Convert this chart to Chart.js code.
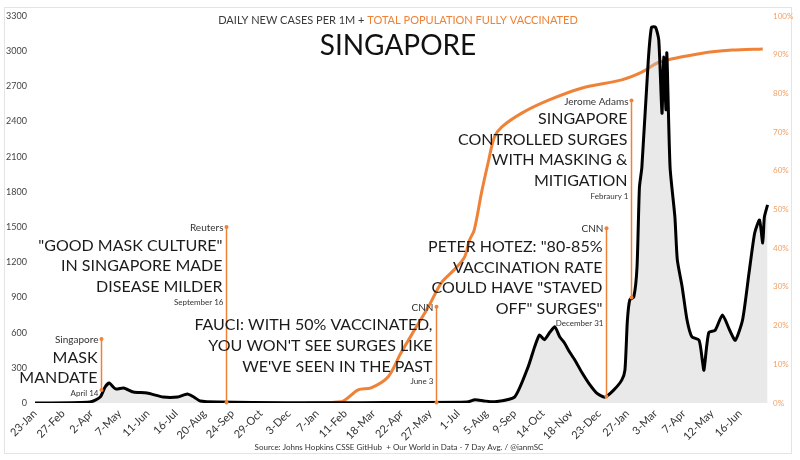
<!DOCTYPE html>
<html>
<head>
<meta charset="utf-8">
<script src="https://cdn.jsdelivr.net/npm/chart.js@4.4.0/dist/chart.umd.min.js"></script>
<style>
  html, body { margin: 0; padding: 0; background: #fff; }
  #wrap { width: 800px; height: 460px; position: relative; }
</style>
</head>
<body>
<div id="wrap"><canvas id="chart" width="800" height="460"></canvas></div>
<script>
// Singapore: daily new cases per 1M (7 day avg) + % population fully vaccinated
const startDate = '2020-01-23';
const tickLabels = ['23-Jan', '27-Feb', '2-Apr', '7-May', '11-Jun', '16-Jul', '20-Aug', '24-Sep', '29-Oct', '3-Dec',
    '7-Jan', '11-Feb', '18-Mar', '22-Apr', '27-May', '1-Jul', '5-Aug', '9-Sep', '14-Oct', '18-Nov', '23-Dec',
    '27-Jan', '3-Mar', '7-Apr', '12-May', '16-Jun'];

const caseDates = ['2020-01-23', '2020-01-29', '2020-03-31', '2020-04-13', '2020-04-19', '2020-04-24', '2020-05-02',
    '2020-05-12', '2020-05-24', '2020-06-10', '2020-06-30', '2020-07-18', '2020-07-30', '2020-08-07', '2020-08-15',
    '2020-09-06', '2020-12-01', '2021-03-01', '2021-05-01', '2021-07-12', '2021-07-22', '2021-08-02', '2021-08-15',
    '2021-09-09', '2021-09-26', '2021-10-04', '2021-10-10', '2021-10-16', '2021-10-23', '2021-10-29', '2021-11-04',
    '2021-11-10', '2021-11-15', '2021-11-23', '2021-12-02', '2021-12-10', '2021-12-20', '2021-12-30', '2022-01-10',
    '2022-01-20', '2022-01-24', '2022-01-27', '2022-01-30', '2022-02-04', '2022-02-08', '2022-02-11', '2022-02-14',
    '2022-02-22', '2022-02-26', '2022-03-03', '2022-03-07', '2022-03-11', '2022-03-13', '2022-03-16', '2022-03-17',
    '2022-03-21', '2022-03-27', '2022-03-30', '2022-04-05', '2022-04-11', '2022-04-17', '2022-04-26', '2022-04-30',
    '2022-05-02', '2022-05-08', '2022-05-16', '2022-05-25', '2022-06-03', '2022-06-10', '2022-06-19', '2022-06-27',
    '2022-07-04', '2022-07-10', '2022-07-14', '2022-07-16', '2022-07-20'];
const caseValues = [0, 0, 8, 51, 137, 170, 120,
    128, 94, 85, 51, 51, 77, 51, 17,
    8, 2, 3, 5, 8, 28, 18, 10,
    50, 310, 480, 580, 540, 605, 650, 565,
    512, 450, 365, 255, 170, 85, 50, 110,
    195, 280, 700, 880, 905, 1160, 1840, 2010,
    2925, 3205, 3205, 3095, 2470, 2950, 2500, 2985,
    2010, 1585, 1220, 990, 710, 565, 535, 365,
    280, 600, 620, 750, 620, 535, 710, 1110,
    1450, 1560, 1365, 1585, 1690];

const vaxDates = ['2020-12-24', '2021-02-06', '2021-02-27', '2021-03-15', '2021-04-05', '2021-04-21', '2021-05-08',
    '2021-05-25', '2021-06-10', '2021-06-26', '2021-07-09', '2021-07-15', '2021-07-21', '2021-07-30', '2021-08-08',
    '2021-08-15', '2021-08-24', '2021-09-18', '2021-10-22', '2021-12-02', '2022-01-20', '2022-02-14', '2022-03-08',
    '2022-04-30', '2022-06-06', '2022-07-14'];
const vaxValues = [0, 0.3, 3.4, 3.9, 6.7, 12.9, 18.9,
    24.8, 31, 34.4, 37.7, 42, 44.7, 54.3, 62.8,
    68.7, 71.3, 74.9, 78.3, 81.4, 83.5, 85.5, 88.1,
    90.4, 91.2, 91.5];

// callouts
const noteDates = ['2020-04-14', '2020-09-16', '2021-06-03', '2021-12-31', '2022-02-01'];
const noteTops = [545, 1500, 820, 1490, 2580];
const noteBases = [110, 5, 5, 55, 900];
const noteSources = ['Singapore', 'Reuters', 'CNN', 'CNN', 'Jerome Adams'];
const noteHeadlines = [
    ['MASK', 'MANDATE'],
    ['"GOOD MASK CULTURE"', 'IN SINGAPORE MADE', 'DISEASE MILDER'],
    ['FAUCI: WITH 50% VACCINATED,', "YOU WON'T SEE SURGES LIKE", "WE'VE SEEN IN THE PAST"],
    ['PETER HOTEZ: "80-85%', 'VACCINATION RATE', 'COULD HAVE "STAVED', 'OFF" SURGES"'],
    ['SINGAPORE', 'CONTROLLED SURGES', 'WITH MASKING &', 'MITIGATION']
];
const noteDateLabels = ['April 14', 'September 16', 'June 3', 'December 31', 'Febraury 1'];

const ORANGE = '#ef8236';
const FONT = 'Lato, "Noto Sans", sans-serif';

const dayOf = d => (Date.parse(d) - Date.parse(startDate)) / 86400000;

// white page + thin frame
const framePlugin = {
    id: 'frame',
    beforeDraw(chart) {
        const ctx = chart.ctx;
        ctx.save();
        ctx.fillStyle = '#fff';
        ctx.fillRect(0, 0, chart.width, chart.height);
        ctx.strokeStyle = '#e4e4e4';
        ctx.lineWidth = 1;
        ctx.strokeRect(4.5, 7.5, 787, 446);
        ctx.restore();
    }
};

// titles and source line
const textPlugin = {
    id: 'texts',
    beforeDatasetsDraw(chart) {
        const ctx = chart.ctx;
        ctx.save();
        ctx.textBaseline = 'middle';
        ctx.font = '11px ' + FONT;
        const p1 = 'DAILY NEW CASES PER 1M + ';
        const p2 = 'TOTAL POPULATION FULLY VACCINATED';
        const w1 = ctx.measureText(p1).width;
        const w2 = ctx.measureText(p2).width;
        let sx = 398 - (w1 + w2) / 2;
        ctx.textAlign = 'left';
        ctx.fillStyle = '#3a3a3a';
        ctx.fillText(p1, sx, 20);
        ctx.fillStyle = ORANGE;
        ctx.fillText(p2, sx + w1, 20);

        ctx.textAlign = 'center';
        ctx.fillStyle = '#111';
        ctx.font = '28px ' + FONT;
        ctx.fillText('SINGAPORE', 398, 46);

        ctx.font = '8px ' + FONT;
        ctx.fillStyle = '#333';
        ctx.fillText('Source: Johns Hopkins CSSE GitHub  + Our World in Data - 7 Day Avg. / @ianmSC', 399, 447);
        ctx.restore();
    }
};

const notesPlugin = {
    id: 'notes',
    afterDatasetsDraw(chart) {
        const { ctx, scales: { x, y } } = chart;
        noteDates.forEach((d, i) => {
            const px = Math.round(x.getPixelForValue(dayOf(d))) + 0.5;
            const top = y.getPixelForValue(noteTops[i]);
            const base = y.getPixelForValue(noteBases[i]);
            ctx.save();
            ctx.strokeStyle = ORANGE;
            ctx.lineWidth = 1.5;
            ctx.beginPath();
            ctx.moveTo(px, top);
            ctx.lineTo(px, base);
            ctx.stroke();
            ctx.fillStyle = ORANGE;
            [top, base].forEach(py => {
                ctx.beginPath();
                ctx.arc(px, py, 2, 0, Math.PI * 2);
                ctx.fill();
            });

            ctx.textAlign = 'right';
            ctx.textBaseline = 'middle';
            ctx.fillStyle = '#333';
            ctx.font = '10px ' + FONT;
            ctx.fillText(noteSources[i], px - 3, top + 1);

            ctx.fillStyle = '#1b1b1b';
            ctx.font = '16px ' + FONT;
            const lines = noteHeadlines[i];
            lines.forEach((t, j) => ctx.fillText(t, px - 4, top + 18.5 + j * 20.7));

            ctx.fillStyle = '#333';
            ctx.font = '8px ' + FONT;
            ctx.fillText(noteDateLabels[i], px - 3, top + 18.5 + (lines.length - 1) * 20.7 + 15);
            ctx.restore();
        });
    }
};

const ctx = document.getElementById('chart').getContext('2d');
new Chart(ctx, {
    type: 'line',
    data: {
        datasets: [{
            label: 'Daily new cases per 1M',
            data: caseDates.map((d, i) => ({ x: dayOf(d), y: caseValues[i] })),
            yAxisID: 'y',
            borderColor: '#000',
            borderWidth: 3,
            backgroundColor: 'rgba(200,200,200,0.4)',
            fill: 'origin',
            pointRadius: 0,
            tension: 0.2
        }, {
            label: 'Total population fully vaccinated',
            data: vaxDates.map((d, i) => ({ x: dayOf(d), y: vaxValues[i] })),
            yAxisID: 'y2',
            borderColor: ORANGE,
            borderWidth: 3,
            fill: false,
            pointRadius: 0,
            tension: 0.3
        }]
    },
    options: {
        responsive: false,
        animation: false,
        devicePixelRatio: 1,
        layout: { padding: { top: 16, left: 0, right: 0, bottom: 0 } },
        plugins: {
            legend: { display: false },
            tooltip: { enabled: false }
        },
        scales: {
            x: {
                type: 'linear',
                min: 0,
                max: 912,
                grid: { display: false, drawTicks: false },
                border: { display: false },
                afterBuildTicks: s => { s.ticks = tickLabels.map((t, i) => ({ value: i * 35 })); },
                afterFit: s => { s.height = 57; },
                ticks: {
                    autoSkip: false,
                    minRotation: 45,
                    maxRotation: 45,
                    padding: 4,
                    color: '#333',
                    font: { size: 11, family: FONT },
                    callback: (v) => tickLabels[Math.round(v / 35)]
                }
            },
            y: {
                position: 'left',
                min: 0,
                max: 3300,
                grid: { display: false, drawTicks: false },
                border: { display: false },
                afterFit: s => { s.width = 35; },
                ticks: {
                    stepSize: 300,
                    padding: 8,
                    color: '#444',
                    font: { size: 9, family: FONT },
                    callback: v => String(v)
                }
            },
            y2: {
                position: 'right',
                min: 0,
                max: 100,
                grid: { display: false, drawTicks: false },
                border: { display: false },
                afterFit: s => { s.width = 30; },
                ticks: {
                    stepSize: 10,
                    padding: 3,
                    color: '#f2a066',
                    font: { size: 8, family: FONT },
                    callback: v => v + '%'
                }
            }
        }
    },
    plugins: [framePlugin, textPlugin, notesPlugin]
});
</script>
</body>
</html>
